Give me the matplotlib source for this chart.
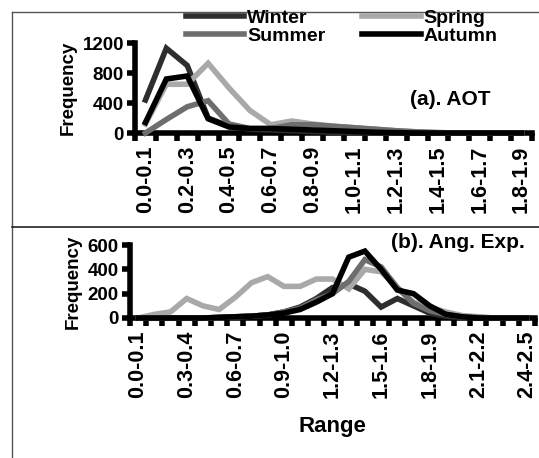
import matplotlib
matplotlib.use('Agg')
import matplotlib.pyplot as plt
from matplotlib.lines import Line2D
import numpy as np

plt.rcParams['font.family'] = ['Liberation Sans', 'DejaVu Sans']
plt.rcParams['font.weight'] = 'bold'
plt.rcParams['axes.labelweight'] = 'bold'

# (a) AOT bins
aot_labels = ['0.0-0.1', '0.1-0.2', '0.2-0.3', '0.3-0.4', '0.4-0.5', '0.5-0.6',
              '0.6-0.7', '0.7-0.8', '0.8-0.9', '0.9-1.0', '1.0-1.1', '1.1-1.2',
              '1.2-1.3', '1.3-1.4', '1.4-1.5', '1.5-1.6', '1.6-1.7', '1.7-1.8',
              '1.8-1.9']
aot_winter = [440, 1130, 900, 200, 90, 50, 40, 30, 20, 10, 5, 0, 0, 0, 0, 0, 0, 0, 0]
aot_spring = [120, 650, 650, 930, 600, 300, 110, 160, 120, 90, 70, 50, 30, 15, 5, 0, 0, 0, 0]
aot_summer = [0, 180, 350, 430, 120, 60, 60, 110, 110, 90, 70, 50, 30, 15, 5, 0, 0, 0, 0]
aot_autumn = [140, 720, 760, 190, 80, 60, 60, 50, 40, 30, 20, 10, 5, 0, 0, 0, 0, 0, 0]

# (b) Angstrom exponent bins
ae_labels = ['0.0-0.1', '0.1-0.2', '0.2-0.3', '0.3-0.4', '0.4-0.5', '0.5-0.6',
             '0.6-0.7', '0.7-0.8', '0.8-0.9', '0.9-1.0', '1.0-1.1', '1.1-1.2',
             '1.2-1.3', '1.3-1.4', '1.4-1.5', '1.5-1.6', '1.6-1.7', '1.7-1.8',
             '1.8-1.9', '1.9-2.0', '2.0-2.1', '2.1-2.2', '2.2-2.3', '2.3-2.4',
             '2.4-2.5']
ae_winter = [0, 0, 0, 0, 0, 5, 10, 15, 25, 50, 90, 160, 250, 280, 220, 90, 160, 100, 40, 15, 5, 0, 0, 0, 0]
ae_spring = [0, 30, 50, 160, 100, 70, 170, 290, 340, 260, 260, 320, 320, 240, 400, 380, 250, 130, 90, 50, 20, 10, 0, 0, 0]
ae_summer = [0, 0, 0, 0, 0, 5, 10, 15, 25, 50, 80, 150, 200, 300, 480, 420, 250, 120, 60, 30, 10, 5, 0, 0, 0]
ae_autumn = [0, 0, 0, 0, 0, 5, 10, 15, 25, 40, 70, 130, 200, 500, 550, 400, 230, 200, 100, 30, 10, 0, 0, 0, 0]

seasons = ['Winter', 'Spring', 'Summer', 'Autumn']
colors = {'Winter': '#2e2e2e', 'Spring': '#a9a9a9', 'Summer': '#6e6e6e', 'Autumn': '#000000'}
W, H = 539, 458
LW = 4.0


def style_axis(ax, labels, step, ymax, ystep):
    n = len(labels)
    ax.set_xlim(-0.5, n - 0.5)
    ax.set_ylim(0, ymax)
    ax.set_yticks(np.arange(0, ymax + 1, ystep))
    ax.set_xticks(np.arange(-0.5, n, 1), minor=True)
    ax.set_xticks(np.arange(0, n, step))
    ax.set_xticklabels(labels[::step], rotation=90, fontsize=15.5)
    ax.tick_params(axis='x', which='major', length=0, pad=9)
    ax.tick_params(axis='x', which='minor', length=6, width=4, direction='out')
    ax.tick_params(axis='y', length=6, width=4, labelsize=13.5, pad=2)
    for s in ['top', 'right']:
        ax.spines[s].set_visible(False)
    for s in ['left', 'bottom']:
        ax.spines[s].set_linewidth(4)
    ax.set_ylabel('Frequency', fontsize=13.5, labelpad=4)


fig = plt.figure(figsize=(W / 100, H / 100), dpi=100)

ax1 = fig.add_axes([135 / W, 1 - 133 / H, (532 - 135) / W, 90 / H])
x1 = np.arange(len(aot_labels))
data_a = {'Winter': aot_winter, 'Spring': aot_spring, 'Summer': aot_summer, 'Autumn': aot_autumn}
handles = {}
for s in seasons:
    handles[s], = ax1.plot(x1, data_a[s], color=colors[s], lw=LW, solid_joinstyle='miter',
                           clip_on=False, zorder=3)
style_axis(ax1, aot_labels, 2, 1200, 400)
ax1.text(0.895, 0.37, '(a). AOT', transform=ax1.transAxes, ha='right', va='center',
         fontsize=15)

ax2 = fig.add_axes([130 / W, 1 - 318 / H, (535 - 130) / W, 73 / H])
x2 = np.arange(len(ae_labels))
data_b = {'Winter': ae_winter, 'Spring': ae_spring, 'Summer': ae_summer, 'Autumn': ae_autumn}
for s in seasons:
    ax2.plot(x2, data_b[s], color=colors[s], lw=LW, solid_joinstyle='miter', clip_on=False, zorder=3)
style_axis(ax2, ae_labels, 3, 600, 200)
ax2.set_xlabel('Range', fontsize=16, labelpad=13)
ax2.text(0.975, 1.03, '(b). Ang. Exp.', transform=ax2.transAxes, ha='right', va='center',
         fontsize=15)

# legend filled column by column: Winter/Summer, then Spring/Autumn
leg_order = ['Winter', 'Summer', 'Spring', 'Autumn']
fig.legend([handles[s] for s in leg_order], leg_order, ncol=2, loc='upper left',
           bbox_to_anchor=(186 / W, 1 - 9 / H), frameon=False, fontsize=14,
           handlelength=3.0, handletextpad=0.15, columnspacing=1.9, labelspacing=0.05,
           borderaxespad=0, borderpad=0)

# panel frames
fig.add_artist(Line2D([12 / W, 1], [1 - 12 / H] * 2, color='#555555', lw=1))
fig.add_artist(Line2D([12 / W, 12 / W], [0, 1 - 12 / H], color='#555555', lw=1))
fig.add_artist(Line2D([12 / W, 1], [1 - 227 / H] * 2, color='#222222', lw=1.2))

fig.savefig('out.png', dpi=100)
